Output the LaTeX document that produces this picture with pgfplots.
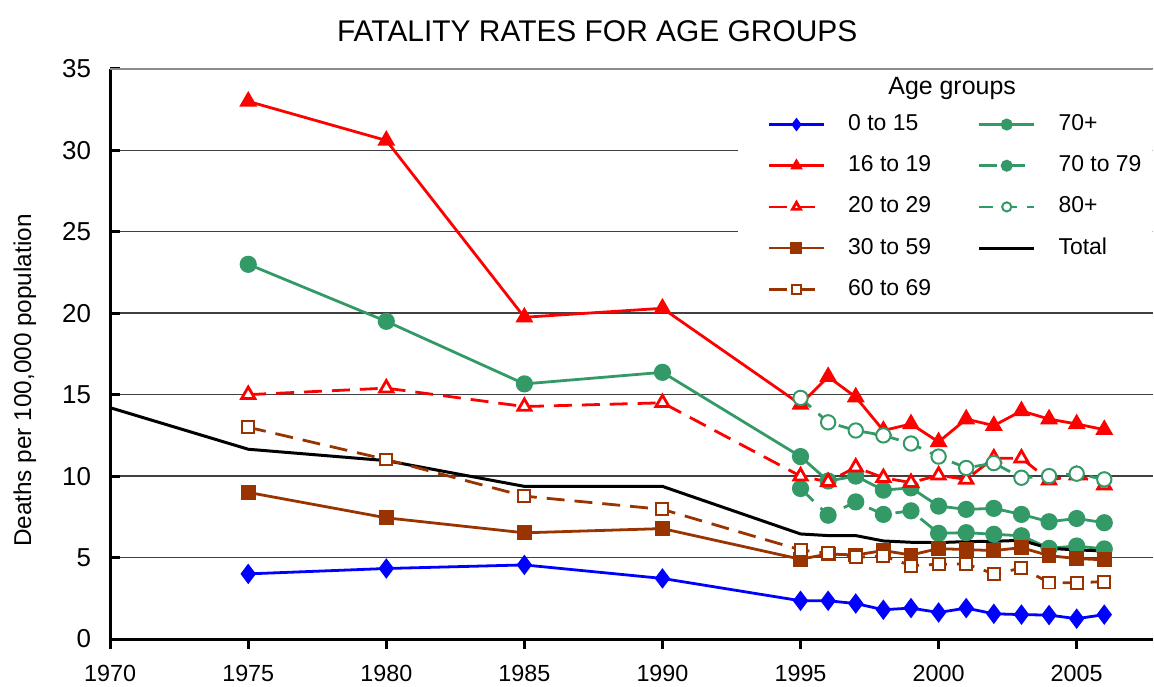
\documentclass[border=0pt]{standalone}
\usepackage{fontspec}
\setmainfont{Liberation Sans}
\usepackage{pgfplots}
\pgfplotsset{compat=1.18}
\definecolor{cblue}{RGB}{0,0,255}
\definecolor{cred}{RGB}{255,0,0}
\definecolor{cbrown}{RGB}{153,51,0}
\definecolor{cgreen}{RGB}{51,153,102}
\begin{document}
\begin{tikzpicture}
\useasboundingbox (-55.25pt,-24pt) rectangle (523.5pt,320.5pt);
\begin{axis}[
 scale only axis, width=522.8pt, height=286pt,
 xmin=1970, xmax=2007.75, ymin=0, ymax=35,
 axis x line*=bottom, axis y line*=left,
 axis line style={line width=1.5pt, black},
 xtick={1970,1975,...,2005}, ytick={0,5,...,35},
 xtick align=outside, ytick align=inside,
 major tick length=5pt,
 tick style={line width=1.5pt, black},
 ymajorgrids, grid style={black!75, line width=0.7pt},
 /pgf/number format/assume math mode=true,
 /pgf/number format/1000 sep={},
 xticklabel style={font=\fontsize{11.7}{13}\selectfont, anchor=base, inner sep=0pt, yshift=-16.5pt},
 yticklabel style={font=\fontsize{13}{15}\selectfont, inner sep=0pt, xshift=-9.4pt},
 legend columns=2,
 legend style={at={(axis cs:1993.81,32.25)}, anchor=north west, draw=none, fill=none,
   inner sep=0pt, outer sep=0pt, font=\fontsize{11.5}{13}\selectfont,
   row sep=9.65pt, column sep=0pt,
   nodes={inner sep=0pt, text height=8.5pt, text depth=2.5pt}, cells={anchor=west}},
 legend image code/.code={\draw[mark repeat=2,mark phase=2] plot coordinates {(0pt,0pt) (13.75pt,0pt) (27.5pt,0pt)}; \path (39pt,0pt);},
 legend image post style={mark size=2.3pt},
 every axis plot/.append style={line width=1.4pt},
]
\fill[white] (axis cs:1992.72,20.56) rectangle (axis cs:2007.75,34.82);
\draw[black!45, line width=1pt] (axis cs:1970,35) -- (axis cs:2007.75,35);
% 0 to 15
\addplot[cblue, mark=diamond*, mark size=4pt, mark options={solid}] coordinates {
(1975,4.0) (1980,4.33) (1985,4.55) (1990,3.72) (1995,2.35) (1996,2.35) (1997,2.18) (1998,1.8) (1999,1.9) (2000,1.63) (2001,1.9) (2002,1.55) (2003,1.5) (2004,1.47) (2005,1.25) (2006,1.5)};
\addlegendentry{\makebox[65pt][l]{0 to 15}}
% 70+
\addplot[cgreen, mark=*, mark size=3.6pt, mark options={solid}] coordinates {
(1975,23.0) (1980,19.5) (1985,15.66) (1990,16.37) (1995,11.2) (1996,9.7) (1997,10.0) (1998,9.14) (1999,9.28) (2000,8.16) (2001,7.96) (2002,8.02) (2003,7.65) (2004,7.2) (2005,7.4) (2006,7.14)};
\addlegendentry{70+}
% 16 to 19
\addplot[cred, mark=triangle*, mark size=3.8pt, mark options={solid}] coordinates {
(1975,33.0) (1980,30.6) (1985,19.75) (1990,20.3) (1995,14.4) (1996,16.1) (1997,14.85) (1998,12.8) (1999,13.2) (2000,12.1) (2001,13.5) (2002,13.1) (2003,14.0) (2004,13.5) (2005,13.2) (2006,12.85)};
\addlegendentry{\makebox[65pt][l]{16 to 19}}
% 70 to 79
\addplot[cgreen, dash pattern=on 9pt off 5pt, mark=*, mark size=3.6pt, mark options={solid}] coordinates {
(1995,9.24) (1996,7.6) (1997,8.42) (1998,7.65) (1999,7.87) (2000,6.49) (2001,6.53) (2002,6.43) (2003,6.34) (2004,5.57) (2005,5.71) (2006,5.53)};
\addlegendentry{70 to 79}
% 20 to 29
\addplot[cred, dash pattern=on 9pt off 5pt, mark=triangle*, mark size=3.8pt, mark options={solid, fill=white}] coordinates {
(1975,15.0) (1980,15.4) (1985,14.27) (1990,14.5) (1995,10.0) (1996,9.65) (1997,10.55) (1998,9.9) (1999,9.6) (2000,10.05) (2001,9.8) (2002,11.1) (2003,11.1) (2004,9.75) (2005,10.05) (2006,9.45)};
\addlegendentry{\makebox[65pt][l]{20 to 29}}
% 80+
\addplot[cgreen, dash pattern=on 7pt off 5pt, mark=*, mark size=3.6pt, mark options={solid, fill=white, line width=1pt}] coordinates {
(1995,14.8) (1996,13.3) (1997,12.8) (1998,12.5) (1999,12.0) (2000,11.2) (2001,10.5) (2002,10.8) (2003,9.9) (2004,10.0) (2005,10.15) (2006,9.8)};
\addlegendentry{80+}
% 30 to 59
\addplot[cbrown, mark=square*, mark size=3pt, mark options={solid}] coordinates {
(1975,9.0) (1980,7.44) (1985,6.52) (1990,6.78) (1995,4.9) (1996,5.22) (1997,5.16) (1998,5.43) (1999,5.16) (2000,5.55) (2001,5.49) (2002,5.43) (2003,5.61) (2004,5.12) (2005,4.94) (2006,4.86)};
\addlegendentry{\makebox[65pt][l]{30 to 59}}
% Total
\addplot[black, line width=1.5pt, mark=none] coordinates {
(1970,14.2) (1975,11.65) (1980,10.95) (1985,9.37) (1990,9.37) (1995,6.45) (1996,6.35) (1997,6.35) (1998,6.02) (1999,5.94) (2000,5.92) (2001,5.98) (2002,6.0) (2003,6.06) (2004,5.57) (2005,5.47) (2006,5.41)};
\addlegendentry{Total}
% 60 to 69
\addplot[cbrown, dash pattern=on 9pt off 5pt, mark=square*, mark size=3pt, mark options={solid, fill=white, line width=1pt}] coordinates {
(1975,13.0) (1980,11.02) (1985,8.77) (1990,7.96) (1995,5.47) (1996,5.26) (1997,5.02) (1998,5.1) (1999,4.51) (2000,4.59) (2001,4.61) (2002,4.0) (2003,4.35) (2004,3.47) (2005,3.45) (2006,3.53)};
\addlegendentry{\makebox[65pt][l]{60 to 69}}
\node[font=\fontsize{12.5}{14}\selectfont] at (axis cs:2000.49,33.78) {Age groups};
\end{axis}
\node[font=\fontsize{15}{17}\selectfont] at (244.25pt,305pt) {FATALITY RATES FOR AGE GROUPS};
\node[rotate=90, font=\fontsize{12.2}{14}\selectfont] at (-42.75pt,129.6pt) {Deaths per 100,000 population};
\end{tikzpicture}
\end{document}
